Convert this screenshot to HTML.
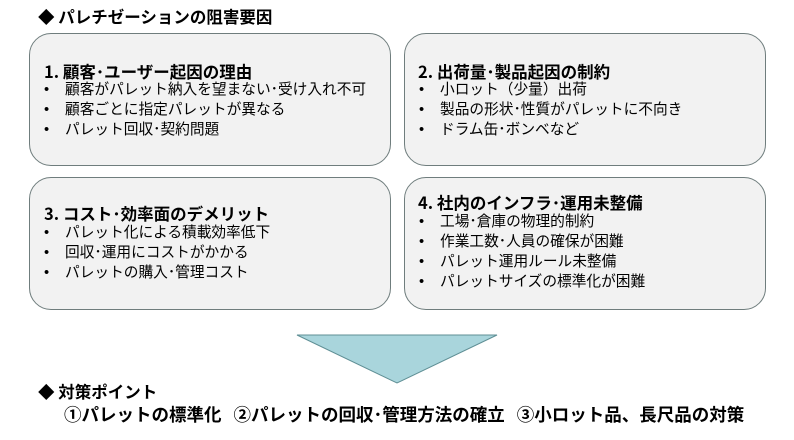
<!DOCTYPE html>
<html><head><meta charset="utf-8"><style>
body{margin:0;width:794px;height:440px;background:#fff;position:relative;overflow:hidden;font-family:"Noto Sans CJK JP","Liberation Sans",sans-serif;color:#000}
.t{position:absolute;white-space:nowrap;line-height:1}
.b{font-weight:bold}
.box{position:absolute;background:#f2f2f2;border:1.3px solid #6f7d7d;border-radius:22px;box-sizing:border-box}
.h{font-size:16.5px;font-weight:bold}
.i{font-size:14.7px}
.i span{display:inline-block;width:21px;font-family:"Liberation Sans",sans-serif}
</style></head><body>
<div class="t b" style="left:38px;top:8px;font-size:16.5px">◆ パレチゼーションの阻害要因</div>

<div class="box" style="left:29px;top:33px;width:362px;height:133px"></div>
<div class="box" style="left:404px;top:33px;width:362px;height:133px"></div>
<div class="box" style="left:29px;top:177px;width:362px;height:133px"></div>
<div class="box" style="left:404px;top:177px;width:362px;height:133px"></div>

<div class="t h" style="left:44px;top:63px">1. 顧客･ユーザー起因の理由</div>
<div class="t i" style="left:44px;top:82px"><span>•</span>顧客がパレット納入を望まない･受け入れ不可</div>
<div class="t i" style="left:44px;top:102px"><span>•</span>顧客ごとに指定パレットが異なる</div>
<div class="t i" style="left:44px;top:122px"><span>•</span>パレット回収･契約問題</div>

<div class="t h" style="left:418px;top:63px">2. 出荷量･製品起因の制約</div>
<div class="t i" style="left:419px;top:82px"><span>•</span>小ロット（少量）出荷</div>
<div class="t i" style="left:419px;top:102px"><span>•</span>製品の形状･性質がパレットに不向き</div>
<div class="t i" style="left:419px;top:122px"><span>•</span>ドラム缶･ボンベなど</div>

<div class="t h" style="left:44px;top:205px">3. コスト･効率面のデメリット</div>
<div class="t i" style="left:44px;top:225px"><span>•</span>パレット化による積載効率低下</div>
<div class="t i" style="left:44px;top:245px"><span>•</span>回収･運用にコストがかかる</div>
<div class="t i" style="left:44px;top:265px"><span>•</span>パレットの購入･管理コスト</div>

<div class="t h" style="left:418px;top:194px">4. 社内のインフラ･運用未整備</div>
<div class="t i" style="left:419px;top:214px"><span>•</span>工場･倉庫の物理的制約</div>
<div class="t i" style="left:419px;top:234px"><span>•</span>作業工数･人員の確保が困難</div>
<div class="t i" style="left:419px;top:254px"><span>•</span>パレット運用ルール未整備</div>
<div class="t i" style="left:419px;top:274px"><span>•</span>パレットサイズの標準化が困難</div>

<svg style="position:absolute;left:0;top:0" width="794" height="440">
<polygon points="297,335 497,335 397,383" fill="#a9d5dc" stroke="#5f8f95" stroke-width="1"/>
</svg>

<div class="t b" style="left:38px;top:383px;font-size:16.5px">◆ 対策ポイント</div>
<div class="t b" style="left:64px;top:406px;font-size:17.5px">①パレットの標準化<span style="display:inline-block;width:12px"></span>②パレットの回収･管理方法の確立<span style="display:inline-block;width:12px"></span>③小ロット品、長尺品の対策</div>
</body></html>
